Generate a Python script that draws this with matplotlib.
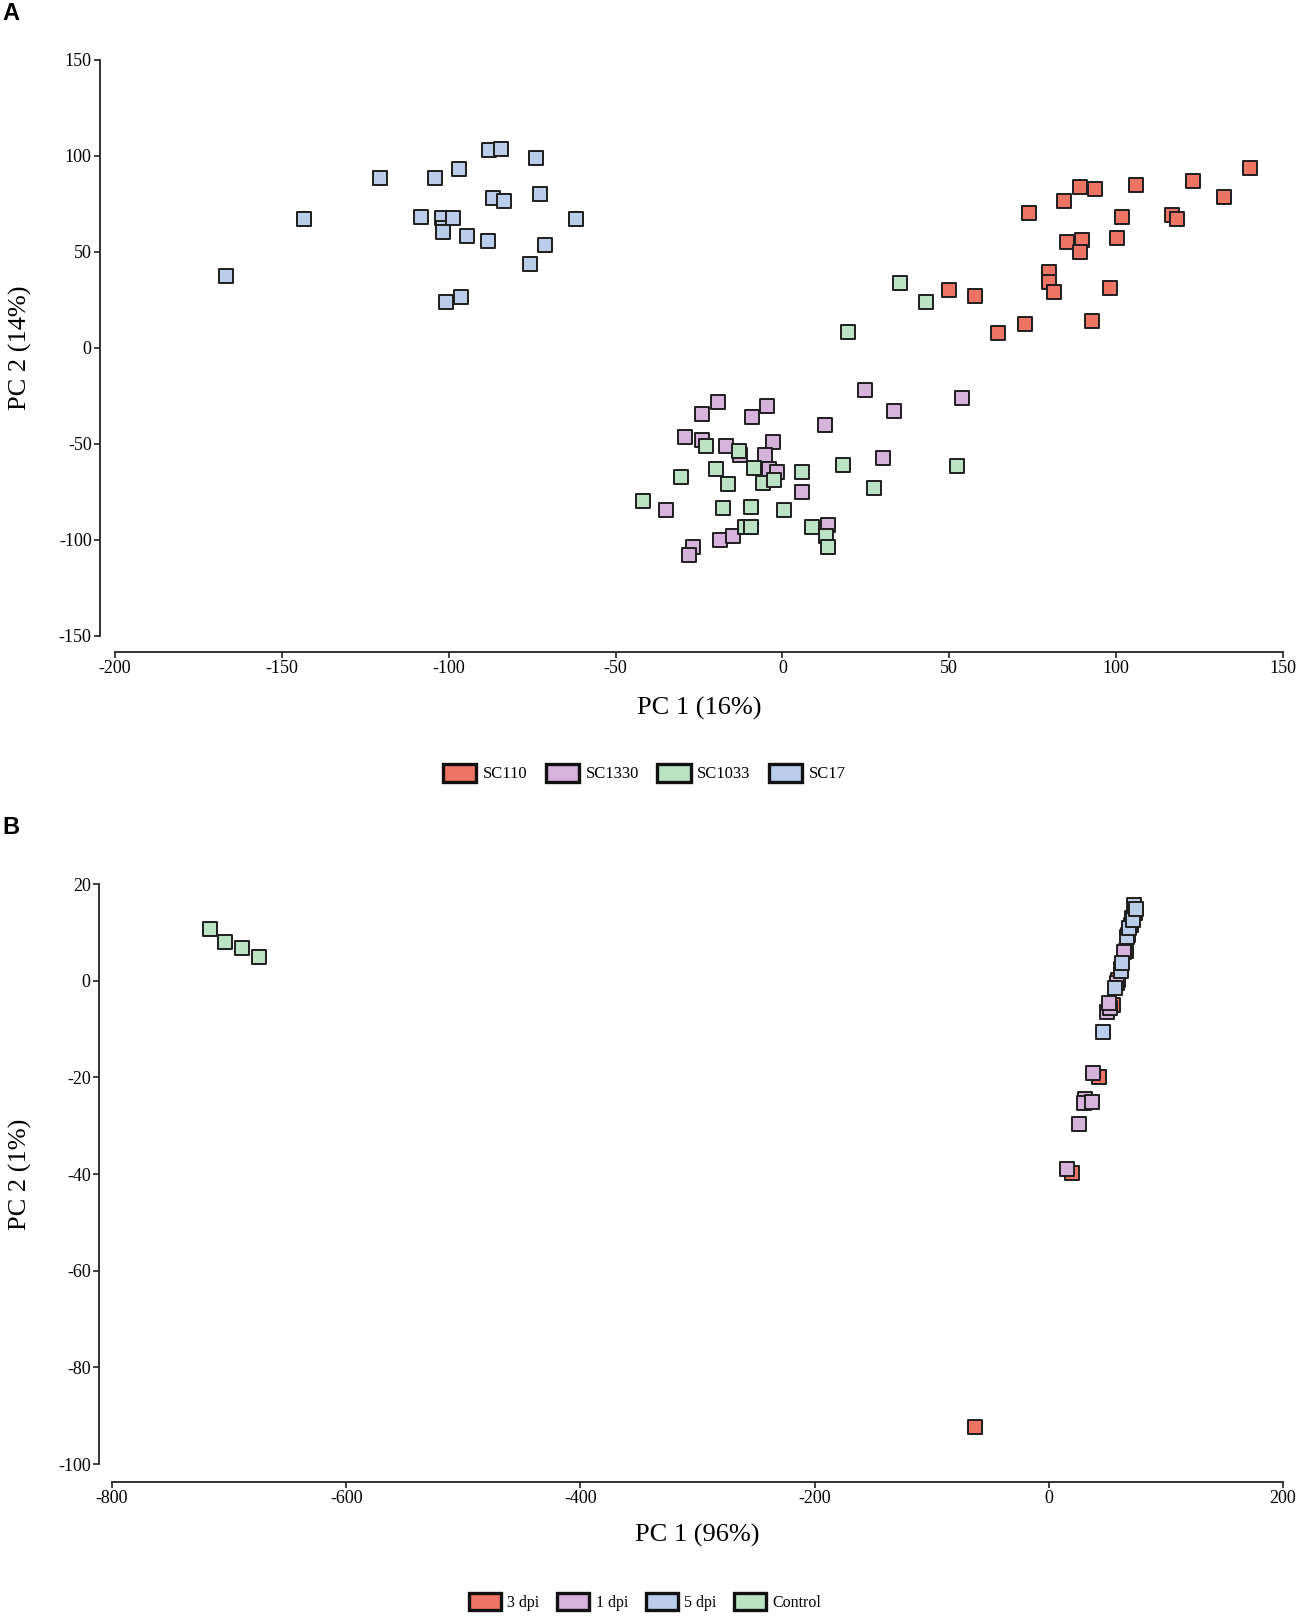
import matplotlib
matplotlib.use("Agg")
import matplotlib.pyplot as plt
from matplotlib.patches import Patch

plt.rcParams['font.family'] = ['Liberation Serif', 'DejaVu Serif']
plt.rcParams['axes.unicode_minus'] = False

# panel A: PCA by genotype
a_groups = ['SC110', 'SC1330', 'SC1033', 'SC17']
a_colors = ['#ee7466', '#d5b3da', '#bde3c6', '#bccde9']

sc110_x = [74.0, 84.3, 89.3, 93.7, 105.9, 123.0, 132.3, 140.1, 101.8, 116.7, 118.2, 85.2,
           89.8, 89.3, 100.2, 80.0, 80.0, 81.4, 98.2, 49.8, 57.8, 92.8, 72.6, 64.5]
sc110_y = [70.2, 76.6, 83.7, 82.7, 84.9, 87.0, 78.8, 93.5, 68.4, 69.4, 67.0, 55.4,
           56.4, 50.0, 57.3, 39.7, 34.5, 29.2, 31.4, 30.2, 27.1, 14.2, 12.7, 8.0]

sc1330_x = [24.7, 33.4, 53.7, -19.4, -24.2, -4.7, -9.0, 12.8, -29.1, -24.0, -17.0, -2.8,
            -5.2, -12.6, -3.9, -1.7, 30.1, 5.9, -34.9, 13.8, -18.7, -14.7, -26.9, -27.9]
sc1330_y = [-22.0, -32.8, -26.0, -28.3, -34.2, -30.4, -35.9, -39.9, -46.2, -47.9, -51.0, -49.1,
            -55.6, -55.5, -63.0, -64.4, -57.1, -75.0, -84.2, -92.0, -100.0, -97.9, -103.8, -107.8]

sc1033_x = [35.2, 43.0, 19.6, -23.0, -13.1, -8.5, -30.5, -19.8, -16.2, -5.7, -2.4, 5.9,
            18.2, 27.4, 52.2, -41.9, -17.7, -9.4, 0.4, -11.2, -9.3, 9.0, 13.2, 13.8]
sc1033_y = [33.7, 23.8, 8.5, -51.0, -53.5, -62.3, -67.4, -62.8, -71.0, -70.3, -68.8, -64.7,
            -61.1, -73.1, -61.6, -79.9, -83.5, -82.8, -84.2, -93.4, -93.4, -93.1, -97.9, -103.8]

sc17_x = [-166.6, -143.4, -120.7, -108.3, -104.2, -102.0, -101.8, -101.7, -98.6, -97.0, -94.5, -100.8,
          -96.4, -88.2, -87.9, -84.3, -86.7, -83.5, -73.8, -72.6, -71.2, -75.6, -61.9]
sc17_y = [37.5, 67.0, 88.4, 68.1, 88.7, 67.9, 62.3, 60.4, 67.9, 93.4, 58.2, 24.1,
          26.7, 55.6, 103.1, 103.5, 78.3, 76.4, 99.1, 80.1, 53.8, 43.9, 67.2]

# panel B: PCA by time point
b_groups = ['3 dpi', '1 dpi', '5 dpi', 'Control']
b_colors = ['#ee7466', '#d5b3da', '#bccde9', '#bde3c6']

dpi3_x = [-63.2, 19.6, 42.6, 54.5, 59.4, 62.0, 65.9, 70.5, 73.5]
dpi3_y = [-92.3, -39.8, -19.9, -5.0, 0.2, 2.5, 6.2, 11.5, 14.0]

dpi1_x = [15.3, 25.8, 30.9, 30.3, 36.6, 38.0, 50.0, 52.3, 51.4, 58.5, 64.5, 68.0, 71.0]
dpi1_y = [-39.0, -29.7, -24.5, -25.3, -25.0, -19.1, -6.5, -5.7, -4.6, -0.5, 6.0, 9.5, 13.0]

dpi5_x = [46.5, 56.5, 61.4, 62.3, 66.5, 68.7, 72.2, 72.9, 74.5]
dpi5_y = [-10.7, -1.5, 1.9, 3.7, 9.0, 10.9, 12.6, 15.7, 14.9]

ctrl_x = [-716.0, -703.4, -689.2, -674.4]
ctrl_y = [10.6, 8.1, 6.8, 5.0]

W, H = 1299, 1617
fig = plt.figure(figsize=(W / 100, H / 100), dpi=100)


def make_axes(x0, x1, y0, y1, left_off, bottom_off):
    ax = fig.add_axes([x0 / W, 1 - y1 / H, (x1 - x0) / W, (y1 - y0) / H])
    ax.spines['top'].set_visible(False)
    ax.spines['right'].set_visible(False)
    ax.spines['left'].set_position(('outward', left_off * 0.72))
    ax.spines['bottom'].set_position(('outward', bottom_off * 0.72))
    for s in ['left', 'bottom']:
        ax.spines[s].set_linewidth(1.3)
        ax.spines[s].set_color('#222222')
    ax.tick_params(axis='both', direction='out', length=4, width=1.2, color='#222222',
                   labelsize=13, pad=2)
    ax.patch.set_alpha(0)
    return ax


def square_scatter(ax, xs, ys, color):
    ax.scatter(xs, ys, marker='s', s=115, c=color, edgecolors='#1e1e1e',
               linewidths=1.4, zorder=3, clip_on=False)


# --- A ---
axA = make_axes(115, 1283, 60, 636, 15, 16)
for xs, ys, col in zip([sc110_x, sc1330_x, sc1033_x, sc17_x],
                       [sc110_y, sc1330_y, sc1033_y, sc17_y], a_colors):
    square_scatter(axA, xs, ys, col)
axA.set_xlim(-200, 150)
axA.set_ylim(-150, 150)
axA.set_xticks(range(-200, 151, 50))
axA.set_yticks(range(-150, 151, 50))
axA.set_xlabel('PC 1 (16%)', fontsize=19, labelpad=14)
axA.set_ylabel('PC 2 (14%)', fontsize=19, labelpad=19)

# --- B ---
axB = make_axes(112, 1283, 884, 1464, 13, 18)
for xs, ys, col in zip([dpi3_x, dpi1_x, dpi5_x, ctrl_x],
                       [dpi3_y, dpi1_y, dpi5_y, ctrl_y], b_colors):
    square_scatter(axB, xs, ys, col)
axB.set_xlim(-800, 200)
axB.set_ylim(-100, 20)
axB.set_xticks(range(-800, 201, 200))
axB.set_yticks(range(-100, 21, 20))
axB.set_xlabel('PC 1 (96%)', fontsize=19, labelpad=12)
axB.set_ylabel('PC 2 (1%)', fontsize=19, labelpad=19)

# panel letters
fig.text(2 / W, 1 - 14 / H, 'A', family='Liberation Sans', weight='bold', fontsize=17, va='center')
fig.text(2 / W, 1 - 827 / H, 'B', family='Liberation Sans', weight='bold', fontsize=17, va='center')


def add_legend(labels, colors, cx, cy, fsize):
    handles = [Patch(facecolor=c, edgecolor='#111111', linewidth=2.4, label=l)
               for l, c in zip(labels, colors)]
    fig.legend(handles=handles, loc='center', bbox_to_anchor=(cx, cy), ncol=4,
               frameon=False, fontsize=fsize, handlelength=2.0, handleheight=1.3,
               handletextpad=0.4, columnspacing=1.1)


add_legend(a_groups, a_colors, 0.496, 1 - 773 / H, 12)
add_legend(b_groups, b_colors, 0.4966, 1 - 1602 / H, 11.5)

fig.savefig('out.png', dpi=100)
